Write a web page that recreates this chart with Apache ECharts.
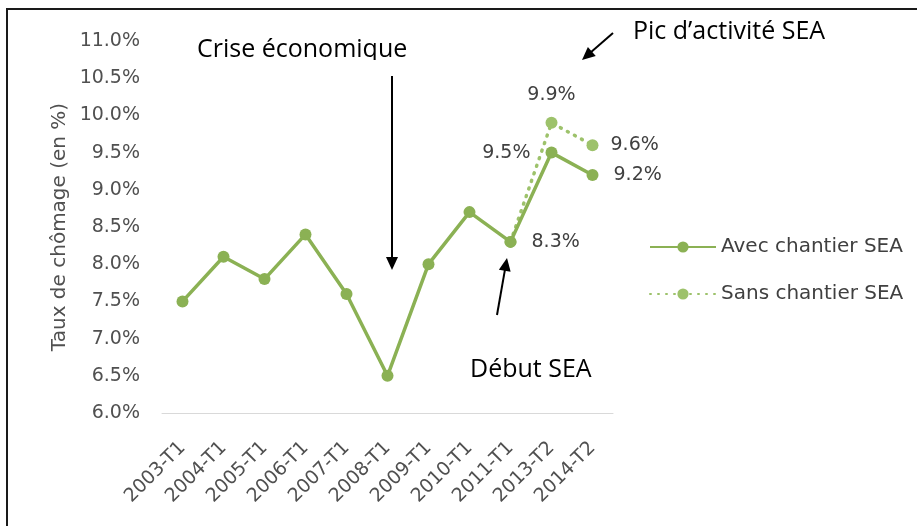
<!DOCTYPE html>
<html>
<head>
<meta charset="utf-8">
<script src="https://cdn.jsdelivr.net/npm/echarts@6/dist/echarts.min.js"></script>
<style>
html, body { margin: 0; padding: 0; background: #fff; }
#main { width: 917px; height: 526px; }
</style>
</head>
<body>
<div id="main"></div>
<script>
// données
var periodes = ['2003-T1', '2004-T1', '2005-T1', '2006-T1', '2007-T1', '2008-T1', '2009-T1', '2010-T1', '2011-T1', '2013-T2', '2014-T2'];
var avecSEA = [7.5, 8.1, 7.8, 8.4, 7.6, 6.5, 8.0, 8.7, 8.3, 9.5, 9.2];
var sansSEA = [null, null, null, null, null, null, null, null, 8.3, 9.9, 9.6];
// étiquettes affichées : index -> position
var labelsAvec = { 8: 'right', 9: 'left', 10: 'right' };
var labelsSans = { 9: 'top', 10: 'right' };
var yTicks = { min: 6, max: 11, step: 0.5 };

var vert = '#8bb154';
var vertClair = '#9dc26b';

function pct(v) {
	return v.toFixed(1) + '%';
}

/**
 * construit les points avec leurs étiquettes
 */
function buildData(values, labels) {
	return values.map(function(v, i) {
		if (labels[i]) {
			return {
				value: v,
				label: { show: true, position: labels[i] }
			};
		}
		return v;
	});
}

/**
 * flèche : trait + pointe
 */
function arrow(x1, y1, x2, y2) {
	var dx = x2 - x1, dy = y2 - y1;
	var len = Math.sqrt(dx * dx + dy * dy);
	var ux = dx / len, uy = dy / len;
	var hl = 13, hw = 6;
	var bx = x2 - ux * hl, by = y2 - uy * hl;
	return [{
		type: 'line',
		shape: { x1: x1, y1: y1, x2: bx + ux * 2, y2: by + uy * 2 },
		style: { stroke: '#000', lineWidth: 2 }
	}, {
		type: 'polygon',
		shape: { points: [[x2, y2], [bx - uy * hw, by + ux * hw], [bx + uy * hw, by - ux * hw]] },
		style: { fill: '#000' }
	}];
}

var annotFont = { fontFamily: 'Open Sans', fontSize: 25, fill: '#000' };

var graphics = [{
	type: 'rect',
	shape: { x: 7, y: 9, width: 930, height: 540 },
	style: { fill: 'none', stroke: '#1a1a1a', lineWidth: 2 },
	silent: true
}, {
	type: 'text',
	x: 197, y: 50,
	style: Object.assign({ text: 'Crise économique', verticalAlign: 'middle' }, annotFont)
}, {
	type: 'rect',
	shape: { x: 190, y: 60, width: 230, height: 10 },
	style: { fill: '#fff' },
	z: 200
}, {
	type: 'text',
	x: 633, y: 32,
	style: Object.assign({ text: 'Pic d\u2019activité SEA', verticalAlign: 'middle' }, annotFont)
}, {
	type: 'text',
	x: 470, y: 370,
	style: Object.assign({ text: 'Début SEA', verticalAlign: 'middle' }, annotFont)
}];
graphics = graphics.concat(arrow(392, 76, 392, 270));
graphics = graphics.concat(arrow(613, 33, 582, 60));
graphics = graphics.concat(arrow(497, 315, 507, 258));

var myChart = echarts.init(document.getElementById('main'));
var option = {
	backgroundColor: '#fff',
	animation: false,
	textStyle: { fontFamily: 'DejaVu Sans' },
	grid: {
		left: 162,
		right: 304,
		top: 41,
		bottom: 113
	},
	legend: {
		orient: 'vertical',
		left: 649,
		top: 237,
		padding: 0,
		itemWidth: 66,
		itemHeight: 14,
		itemGap: 27,
		textStyle: { color: '#404040', fontSize: 20, fontFamily: 'DejaVu Sans' },
		data: ['Avec chantier SEA', 'Sans chantier SEA']
	},
	xAxis: {
		type: 'category',
		data: periodes,
		axisLine: { lineStyle: { color: '#d9d9d9', width: 1 } },
		axisTick: { show: false },
		axisLabel: { rotate: 45, margin: 32, color: '#505050', fontSize: 19 }
	},
	yAxis: {
		type: 'value',
		min: yTicks.min,
		max: yTicks.max,
		interval: yTicks.step,
		name: 'Taux de chômage (en %)',
		nameLocation: 'middle',
		nameGap: 92,
		nameTextStyle: { color: '#505050', fontSize: 20 },
		splitLine: { show: false },
		axisLine: { show: false },
		axisTick: { show: false },
		axisLabel: { margin: 22, color: '#505050', fontSize: 19, formatter: pct }
	},
	series: [{
		name: 'Avec chantier SEA',
		type: 'line',
		data: buildData(avecSEA, labelsAvec),
		symbol: 'circle',
		symbolSize: 12,
		z: 3,
		itemStyle: { color: vert },
		lineStyle: { color: vert, width: 3.5 },
		label: {
			show: false,
			distance: 15,
			color: '#404040',
			fontSize: 19,
			formatter: function(p) { return pct(p.value); }
		}
	}, {
		name: 'Sans chantier SEA',
		type: 'line',
		data: buildData(sansSEA, labelsSans),
		symbol: 'circle',
		symbolSize: 12,
		z: 2,
		itemStyle: { color: vertClair },
		lineStyle: { color: vertClair, width: 3.5, type: [1, 7], cap: 'round' },
		label: {
			show: false,
			distance: 12,
			color: '#404040',
			fontSize: 19,
			formatter: function(p) { return pct(p.value); }
		}
	}],
	graphic: graphics
};
myChart.setOption(option);
</script>
</body>
</html>
